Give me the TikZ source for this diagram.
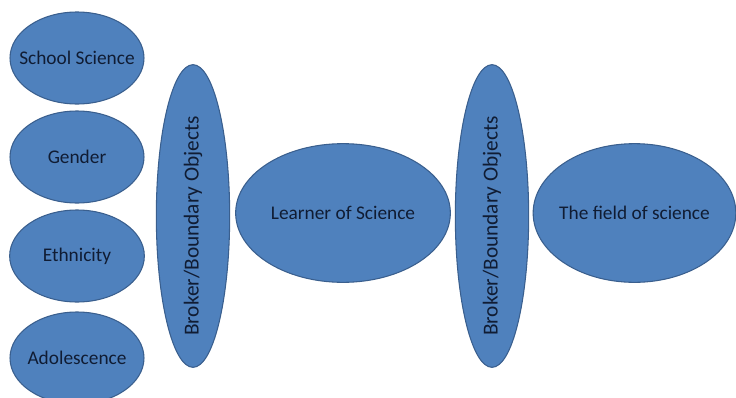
\documentclass[tikz,border=0pt]{standalone}
\usepackage{fontspec}
\setmainfont{Carlito}
\usepackage{tikz}
\usetikzlibrary{shapes.geometric}

\definecolor{blobfill}{HTML}{4F81BD}
\definecolor{blobline}{HTML}{3A5F8E}
\definecolor{blobtext}{HTML}{101C33}

\begin{document}
\begin{tikzpicture}[x=0.75pt, y=-0.75pt,
    font=\fontsize{14.5}{17}\selectfont,
    blob/.style={draw=blobline, fill=blobfill, ellipse, line width=0.8pt, inner sep=0pt},
    every label/.style={text=blobtext},
    broktext/.style={text=blobtext, rotate=90, font=\fontsize{16}{19}\selectfont}]
  \clip (0,0) rectangle (736,397);
  % influences on the learner
  \node[blob, minimum width=100.5pt, minimum height=69pt, label=center:School Science] (school) at (77,58) {};
  \node[blob, minimum width=100.5pt, minimum height=69pt, label=center:Gender] (gender) at (77,157) {};
  \node[blob, minimum width=101pt, minimum height=69pt, label=center:Ethnicity] (ethnic) at (77,256) {};
  \node[blob, minimum width=100.5pt, minimum height=69pt, label=center:Adolescence] (adolesc) at (77,358) {};
  % brokers
  \node[blob, minimum width=55pt, minimum height=227pt] (brokerA) at (193,216) {};
  \node[broktext] (brokerAtext) at ([yshift=-7.5pt]brokerA.center) {Broker/Boundary Objects};
  \node[blob, minimum width=55pt, minimum height=227pt] (brokerB) at (492,216) {};
  \node[broktext] (brokerBtext) at ([yshift=-7.5pt]brokerB.center) {Broker/Boundary Objects};
  % learner and field
  \node[blob, minimum width=161pt, minimum height=104pt, label=center:Learner of Science] (learner) at (343,213) {};
  \node[blob, minimum width=152pt, minimum height=104pt, label=center:The field of science] (field) at (634.5,213) {};
\end{tikzpicture}
\end{document}
